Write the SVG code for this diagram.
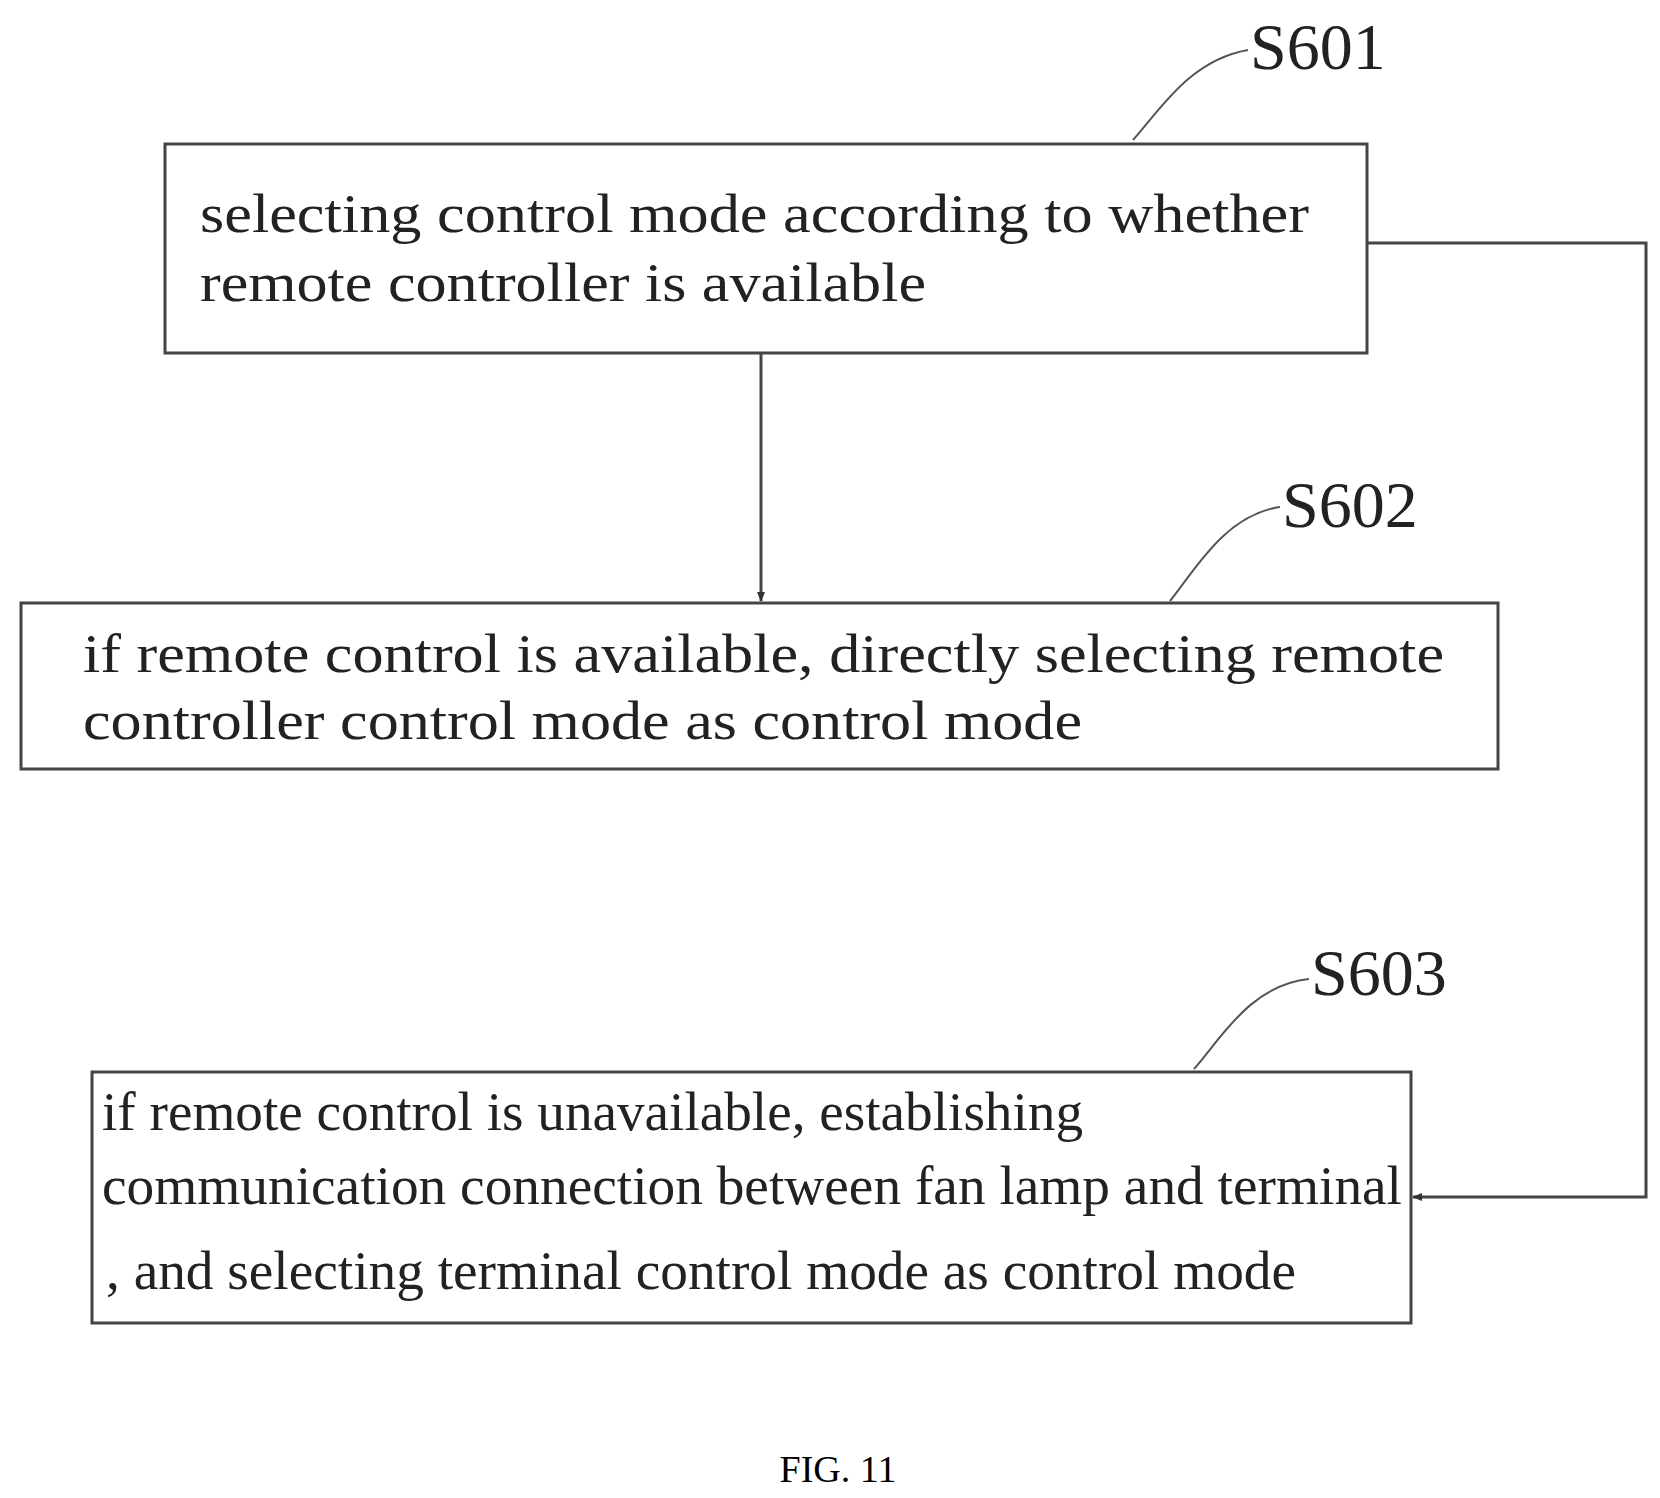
<svg xmlns="http://www.w3.org/2000/svg" width="1660" height="1498" viewBox="0 0 1660 1498">
<style>
.box{fill:none;stroke:#444;stroke-width:3}
.t{font-family:"Liberation Serif",serif;font-size:54px;fill:#222}
.lab{font-family:"Liberation Serif",serif;font-size:66px;fill:#222}
.ld{fill:none;stroke:#555;stroke-width:2}
.c{fill:none;stroke:#444;stroke-width:3}
</style>
<defs><marker id="a" markerWidth="10" markerHeight="10" refX="9" refY="5" orient="auto" markerUnits="userSpaceOnUse"><path d="M0,1 L10,5 L0,9 Z" fill="#333"/></marker></defs>
<rect width="1660" height="1498" fill="#fff"/>
<g id="connectors">
<path class="c" d="M761,353 V601" marker-end="url(#a)"/>
<path class="c" d="M1367,243 H1646 V1197 H1413" marker-end="url(#a)"/>
</g>
<g id="S601">
<rect class="box" x="165" y="144" width="1202" height="209"/>
<text class="t" x="200" y="232" textLength="1109" lengthAdjust="spacingAndGlyphs">selecting control mode according to whether</text>
<text class="t" x="200" y="301" textLength="726" lengthAdjust="spacingAndGlyphs">remote controller is available</text>
<path class="ld" d="M1133,140 C1160,110 1190,60 1248,50"/>
<text class="lab" x="1250" y="69">S601</text>
</g>
<g id="S602">
<rect class="box" x="21" y="603" width="1477" height="166"/>
<text class="t" x="83" y="672" textLength="1361" lengthAdjust="spacingAndGlyphs">if remote control is available, directly selecting remote</text>
<text class="t" x="83" y="739" textLength="999" lengthAdjust="spacingAndGlyphs">controller control mode as control mode</text>
<path class="ld" d="M1170,601 C1195,570 1225,515 1280,507"/>
<text class="lab" x="1282" y="527">S602</text>
</g>
<g id="S603">
<rect class="box" x="92" y="1072" width="1319" height="251"/>
<text class="t" x="102" y="1130" textLength="981" lengthAdjust="spacingAndGlyphs">if remote control is unavailable, establishing</text>
<text class="t" x="102" y="1204" textLength="1300" lengthAdjust="spacingAndGlyphs">communication connection between fan lamp and terminal</text>
<text class="t" x="106" y="1289" textLength="1190" lengthAdjust="spacingAndGlyphs">, and selecting terminal control mode as control mode</text>
<path class="ld" d="M1194,1069 C1220,1040 1250,985 1309,979"/>
<text class="lab" x="1311" y="995">S603</text>
</g>
<text x="838" y="1482" text-anchor="middle" style="font-family:'Liberation Serif',serif;font-size:38px;fill:#000">FIG. 11</text>
</svg>
